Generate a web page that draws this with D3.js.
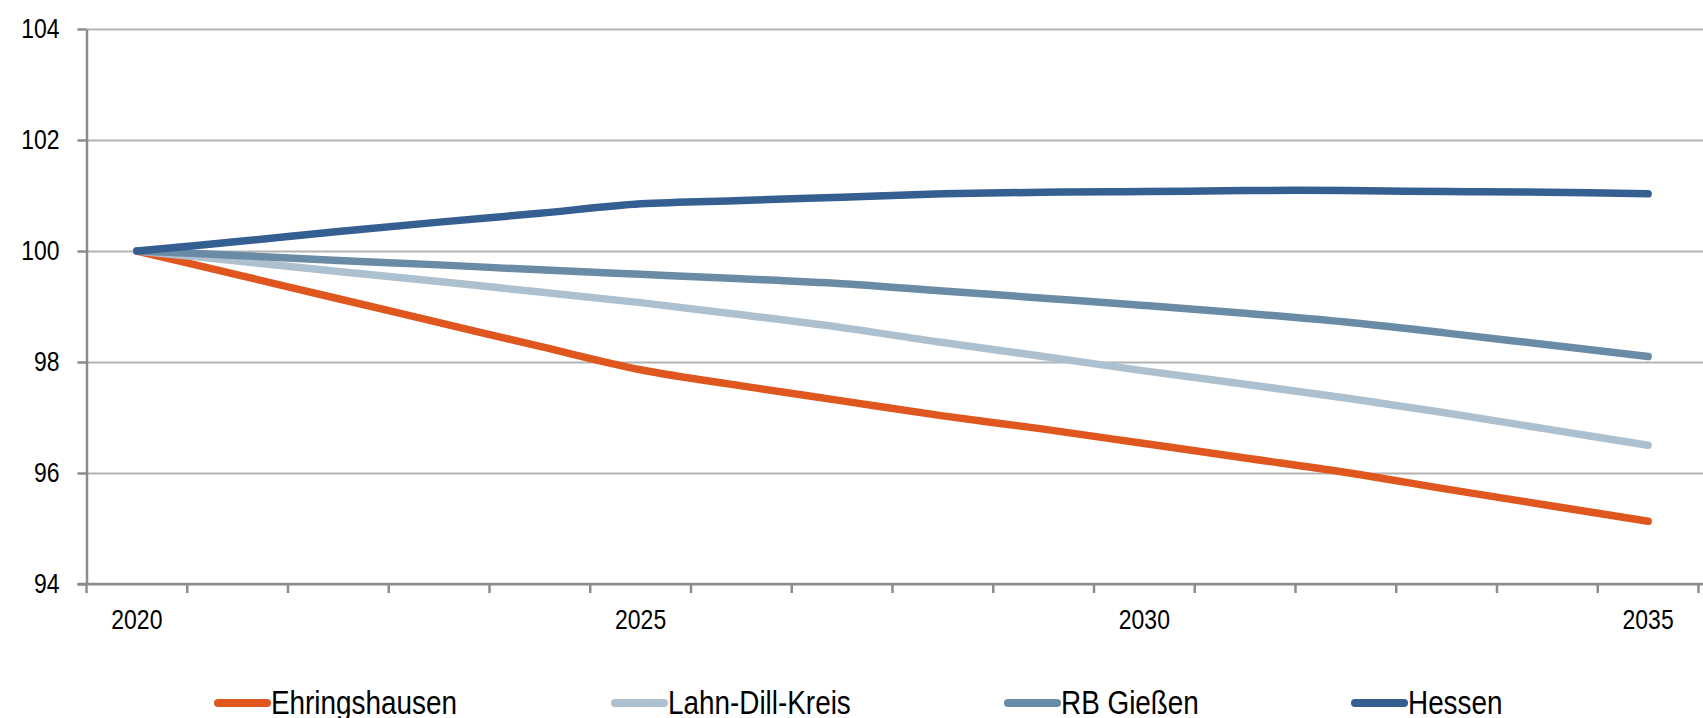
<!DOCTYPE html>
<html>
<head>
<meta charset="utf-8">
<script src="https://cdn.jsdelivr.net/npm/d3@7"></script>
<style>
  html, body { margin: 0; padding: 0; background: #fff; }
  svg { display: block; font-family: "Liberation Sans", Arial, sans-serif; }
</style>
</head>
<body>
<div id="chart"></div>
<script>
// Jahre (Kategorien)
const years = ["2020","2021","2022","2023","2024","2025","2026","2027","2028","2029","2030","2031","2032","2033","2034","2035"];
const yearLabels = ["2020", "2025", "2030", "2035"];
const yTicks = [94, 96, 98, 100, 102, 104];

// Index 2020 = 100
const ehringshausen = [100, 99.57, 99.14, 98.71, 98.28, 97.86, 97.57, 97.30, 97.03, 96.79, 96.53, 96.27, 96.01, 95.71, 95.42, 95.13];
const lahnDillKreis = [100, 99.82, 99.63, 99.45, 99.26, 99.07, 98.85, 98.62, 98.35, 98.10, 97.84, 97.60, 97.35, 97.08, 96.79, 96.50];
const rbGiessen     = [100, 99.92, 99.83, 99.75, 99.66, 99.58, 99.50, 99.41, 99.28, 99.15, 99.02, 98.88, 98.72, 98.52, 98.31, 98.10];
const hessen        = [100, 100.17, 100.35, 100.52, 100.68, 100.85, 100.91, 100.97, 101.03, 101.06, 101.07, 101.09, 101.09, 101.07, 101.06, 101.03];

const seriesNames = ["Ehringshausen", "Lahn-Dill-Kreis", "RB Gießen", "Hessen"];
const seriesColors = ["#e0561f", "#adc0cf", "#6a8ba6", "#355f91"];
const seriesValues = [ehringshausen, lahnDillKreis, rbGiessen, hessen];

const width = 1703, height = 718;
const margin = { left: 86.5, right: 1698.5, top: 29, bottom: 584 };
const narrow = 0.82; // schmale Schrift nachbilden

const svg = d3.select("#chart").append("svg")
    .attr("width", width)
    .attr("height", height);

const x = d3.scaleBand().domain(years).range([margin.left, margin.right]).padding(0);
const y = d3.scaleLinear().domain([94, 104]).range([margin.bottom, margin.top]);

// Gitterlinien
svg.append("g")
    .attr("transform", `translate(${margin.left},0)`)
    .call(d3.axisRight(y).tickValues(yTicks).tickSize(width - margin.left).tickFormat(""))
    .call(g => g.select(".domain").remove())
    .call(g => g.selectAll("line").attr("stroke", "#b3b3b3").attr("stroke-width", 2));

// y-Achse
svg.append("g")
    .attr("transform", `translate(${margin.left},0)`)
    .call(d3.axisLeft(y).tickValues(yTicks).tickSize(9).tickSizeOuter(0))
    .call(g => g.select(".domain").attr("stroke", "#8c8c8c").attr("stroke-width", 2.5))
    .call(g => g.selectAll("line").attr("stroke", "#8c8c8c").attr("stroke-width", 2.5))
    .call(g => g.selectAll("text")
        .attr("x", -27 / narrow)
        .attr("transform", `scale(${narrow},1)`)
        .attr("fill", "#000")
        .style("font-size", "28px"));

// x-Achse: Linie und Striche an den Kategoriegrenzen
const xAxis = svg.append("g");
xAxis.append("line")
    .attr("x1", margin.left - 9).attr("x2", width)
    .attr("y1", y(94)).attr("y2", y(94))
    .attr("stroke", "#8c8c8c").attr("stroke-width", 2.5);
xAxis.selectAll(".tick-mark")
    .data(years.map(d => x(d)).concat([x.range()[1]]))
    .join("line")
    .attr("class", "tick-mark")
    .attr("x1", d => d).attr("x2", d => d)
    .attr("y1", y(94)).attr("y2", y(94) + 9)
    .attr("stroke", "#8c8c8c").attr("stroke-width", 2.5);

svg.append("g")
    .attr("transform", `translate(0,${y(94)})`)
    .call(d3.axisBottom(x).tickValues(yearLabels).tickSize(0).tickPadding(25))
    .call(g => g.select(".domain").remove())
    .call(g => g.selectAll("text")
        .attr("transform", `scale(${narrow},1)`)
        .attr("fill", "#000")
        .style("font-size", "28px"));

// Linien
const line = d3.line()
    .x((d, i) => x(years[i]) + x.bandwidth() / 2)
    .y(d => y(d))
    .curve(d3.curveCatmullRom.alpha(0.5));

svg.append("g")
    .selectAll("path")
    .data(seriesValues)
    .join("path")
    .attr("d", d => line(d))
    .attr("fill", "none")
    .attr("stroke", (d, i) => seriesColors[i])
    .attr("stroke-width", 7.5)
    .attr("stroke-linecap", "round")
    .attr("stroke-linejoin", "round");

// Legende
const legendX = [214, 611, 1004, 1351];
const legend = svg.append("g")
    .selectAll("g")
    .data(seriesNames)
    .join("g")
    .attr("transform", (d, i) => `translate(${legendX[i]},703)`);

legend.append("line")
    .attr("x1", 4).attr("x2", 53)
    .attr("y1", 0).attr("y2", 0)
    .attr("stroke", (d, i) => seriesColors[i])
    .attr("stroke-width", 8)
    .attr("stroke-linecap", "round");

legend.append("text")
    .attr("transform", `translate(57,11) scale(${narrow},1)`)
    .style("font-size", "34px")
    .attr("fill", "#000")
    .text(d => d);
</script>
</body>
</html>
